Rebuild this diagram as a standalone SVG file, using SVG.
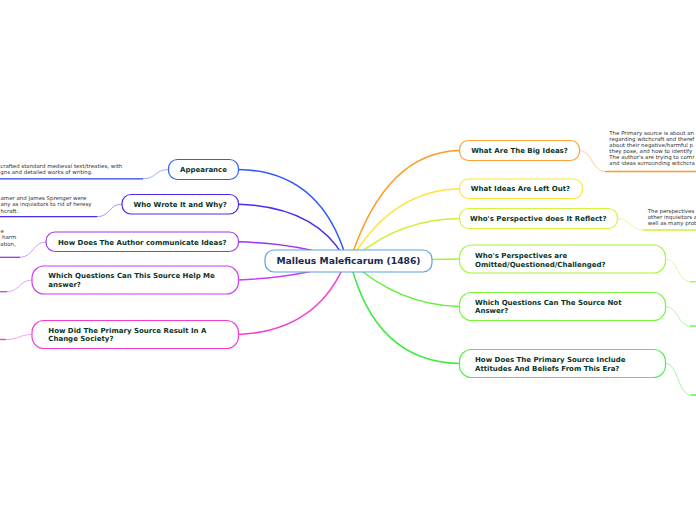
<svg xmlns="http://www.w3.org/2000/svg" width="696" height="520" viewBox="0 0 696 520">
<style>
.t{font-family:"DejaVu Sans",Verdana,sans-serif;font-weight:bold;font-size:7px;fill:#0a3528}
.mt{font-family:"DejaVu Sans",Verdana,sans-serif;font-weight:bold;font-size:9.2px;fill:#1a2b4f}
.lf{font-family:"DejaVu Sans",Verdana,sans-serif;font-size:5.45px;fill:#333}
.n{fill:#fff;stroke-width:1.2}
.c{fill:none;stroke-width:1.5;stroke-linecap:round}
.s{fill:none;stroke-width:0.8;stroke-opacity:0.6}
.u{fill:none;stroke-width:1.3}
</style>
<rect width="696" height="520" fill="#fff"/>
<g id="connectors">
<path class="c" stroke="#2f5bff" d="M238.5 169.5 Q322 171 347 261"/>
<path class="c" stroke="#4a2cf0" d="M238.5 204.2 Q318 207 346 261"/>
<path class="c" stroke="#9a35f5" d="M238.5 241.8 Q305 244 346 261"/>
<path class="c" stroke="#cc3cf5" d="M238.5 280 Q305 277 346 261"/>
<path class="c" stroke="#f53cd0" d="M238.5 334.5 Q318 331 346 261"/>
<path class="c" stroke="#ff9a22" d="M459.5 150.5 Q385 152 350 261"/>
<path class="c" stroke="#ffe438" d="M459.5 188.7 Q392 190 350 261"/>
<path class="c" stroke="#ccf03a" d="M459.5 218.5 Q398 219 350 261"/>
<path class="c" stroke="#a5f53c" d="M459.5 259 L350 261"/>
<path class="c" stroke="#66f03c" d="M459.5 306.5 Q398 305 350 261"/>
<path class="c" stroke="#3fea3f" d="M459.5 363.5 Q375 362 350 261"/>
<path class="s" stroke="#2f5bff" d="M168.5 169.5 C155 169.5 156 178.8 143 178.8"/>
<path class="u" stroke="#2244ee" d="M143 178.8 H0"/>
<path class="s" stroke="#4a2cf0" d="M122 204.2 C109 204.2 110 216.7 97 216.7"/>
<path class="u" stroke="#4a2cf0" d="M97 216.7 H0"/>
<path class="s" stroke="#9a35f5" d="M46 242 C33 242 33 257.3 20 257.3"/>
<path class="u" stroke="#9a35f5" d="M20 257.3 H0"/>
<path class="s" stroke="#cc3cf5" d="M32 280 C20 280 19 291.7 7 291.7"/>
<path class="u" stroke="#cc3cf5" d="M7 291.7 H0"/>
<path class="s" stroke="#f53cd0" d="M32 334.5 C20 334.5 19 339.5 6 339.5"/>
<path class="u" stroke="#f53cd0" d="M6 339.5 H0"/>
<path class="s" stroke="#ff9a22" d="M579.5 150.5 C592 150.5 592 171.5 605 171.5"/>
<path class="u" stroke="#ff9a22" d="M605 171.5 H696"/>
<path class="s" stroke="#ccf03a" d="M617.5 218.5 C630 218.5 630 230 643 230"/>
<path class="u" stroke="#ccf03a" d="M643 230 H696"/>
<path class="s" stroke="#a5f53c" d="M665.5 259 C678 259 678 281.7 690 281.7"/>
<path class="u" stroke="#a5f53c" d="M690 281.7 H696"/>
<path class="s" stroke="#66f03c" d="M665.5 306.5 C678 306.5 678 326 690 326"/>
<path class="u" stroke="#66f03c" d="M690 326 H696"/>
<path class="s" stroke="#3fea3f" d="M665.5 363.5 C678 363.5 678 395 691 395"/>
<path class="u" stroke="#3fea3f" d="M691 395 H696"/>
</g>
<g id="center">
<rect class="n" x="265" y="250" width="167" height="22" rx="9" stroke="#5ba3d9" stroke-width="1.3"/>
<text class="mt" x="348.5" y="264.4" text-anchor="middle">Malleus Maleficarum (1486)</text>
</g>
<g id="appearance">
<rect class="n" x="168.5" y="159.5" width="70" height="20" rx="9" stroke="#2f5bff"/>
<text class="t" x="203.5" y="172" text-anchor="middle">Appearance</text>
</g>
<g id="appearance-note">
<text class="lf" x="0.3" y="168">crafted standard medieval text/treaties, with</text>
<text class="lf" x="0.3" y="174.3">gns and detailed works of writing.</text>
</g>
<g id="who-wrote">
<rect class="n" x="122" y="194.5" width="116.5" height="19.5" rx="9" stroke="#4a2cf0"/>
<text class="t" x="180.2" y="206.7" text-anchor="middle">Who Wrote It and Why?</text>
</g>
<g id="who-wrote-note">
<text class="lf" x="0.5" y="200.2">amer and James Sprenger were</text>
<text class="lf" x="0.5" y="206.4">any as inquisitors to rid of heresy</text>
<text class="lf" x="0.5" y="212.6">hcraft.</text>
</g>
<g id="communicate">
<rect class="n" x="46" y="232" width="192.5" height="19.5" rx="9" stroke="#9a35f5"/>
<text class="t" x="142.3" y="244.5" text-anchor="middle">How Does The Author communicate Ideas?</text>
</g>
<g id="communicate-note">
<text class="lf" x="0.5" y="232.9">e</text>
<text class="lf" x="2" y="239.3">harm</text>
<text class="lf" x="0.3" y="245.7">ation,</text>
</g>
<g id="help-me">
<rect class="n" x="32" y="266" width="206.5" height="28" rx="12" stroke="#cc3cf5"/>
<text class="t" x="48.3" y="278.2">Which Questions Can This Source Help Me</text>
<text class="t" x="48.3" y="286.9">answer?</text>
</g>
<g id="change-society">
<rect class="n" x="32" y="320.5" width="206.5" height="28" rx="12" stroke="#f53cd0"/>
<text class="t" x="48.3" y="332.6">How Did The Primary Source Result In A</text>
<text class="t" x="48.3" y="341.3">Change Society?</text>
</g>
<g id="big-ideas">
<rect class="n" x="459.5" y="140.5" width="120" height="20" rx="9" stroke="#ffa033"/>
<text class="t" x="519.5" y="153" text-anchor="middle">What Are The Big Ideas?</text>
</g>
<g id="big-ideas-note">
<text class="lf" x="609.3" y="135.2">The Primary source is about an</text>
<text class="lf" x="609.3" y="141.1">regarding witchcraft and theref</text>
<text class="lf" x="609.3" y="147">about their negative/harmful p</text>
<text class="lf" x="609.3" y="152.9">they pose, and how to identify</text>
<text class="lf" x="609.3" y="158.8">The author's are trying to comr</text>
<text class="lf" x="609.3" y="164.7">and ideas surrounding witchcra</text>
</g>
<g id="left-out">
<rect class="n" x="459.5" y="179" width="123" height="19.5" rx="9" stroke="#ffe438"/>
<text class="t" x="520.5" y="191.3" text-anchor="middle">What Ideas Are Left Out?</text>
</g>
<g id="reflect">
<rect class="n" x="459.5" y="208.5" width="158" height="20" rx="9" stroke="#d4f53a"/>
<text class="t" x="538.3" y="221.3" text-anchor="middle">Who's Perspective does It Reflect?</text>
</g>
<g id="reflect-note">
<text class="lf" x="647.7" y="212.9">The perspectives</text>
<text class="lf" x="647.7" y="219.1">other inquisitors a</text>
<text class="lf" x="647.7" y="225.3">well as many prot</text>
</g>
<g id="omitted">
<rect class="n" x="459.5" y="245" width="206" height="28" rx="12" stroke="#a5f53c"/>
<text class="t" x="475" y="258.2">Who's Perspectives are</text>
<text class="t" x="475" y="266.7">Omitted/Questioned/Challenged?</text>
</g>
<g id="not-answer">
<rect class="n" x="459.5" y="292.5" width="206" height="28" rx="12" stroke="#7af53c"/>
<text class="t" x="475" y="304.8">Which Questions Can The Source Not</text>
<text class="t" x="475" y="313.4">Answer?</text>
</g>
<g id="attitudes">
<rect class="n" x="459.5" y="349.5" width="206" height="28" rx="12" stroke="#4cef4c"/>
<text class="t" x="475" y="361.8">How Does The Primary Source Include</text>
<text class="t" x="475" y="370.6">Attitudes And Beliefs From This Era?</text>
</g>
</svg>
